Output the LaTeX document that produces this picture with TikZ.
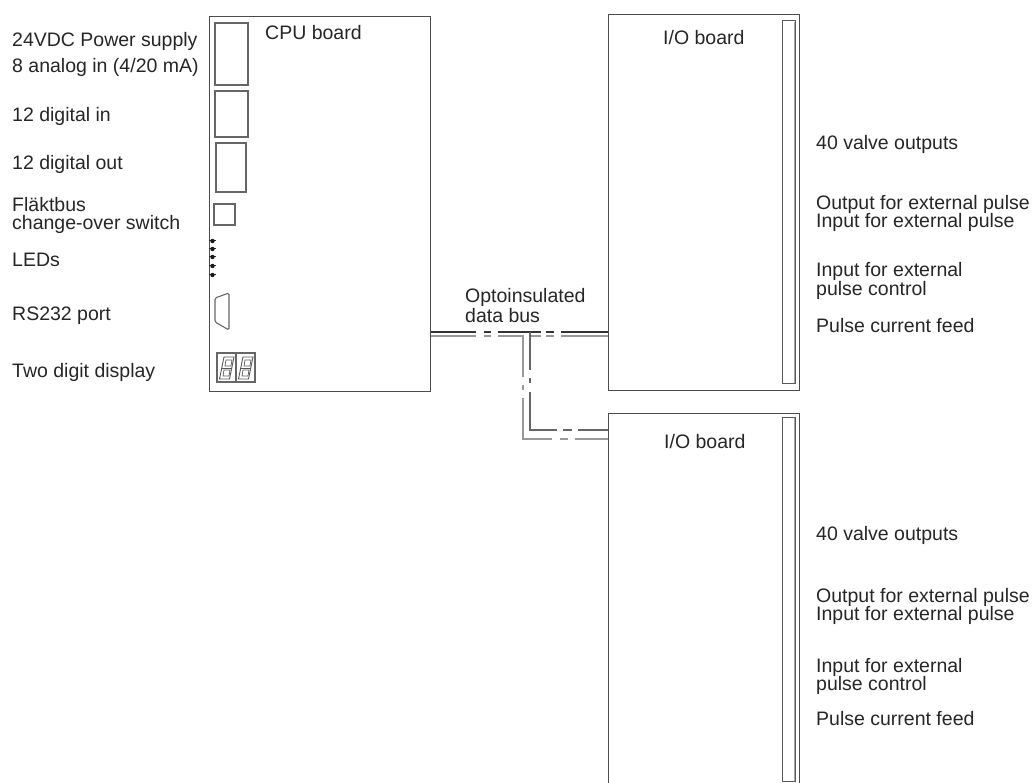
\documentclass[tikz,border=0pt]{standalone}
\usepackage{fontspec}
\setmainfont{Liberation Sans}
\begin{document}
\begin{tikzpicture}[x=1pt,y=-1pt,
  lbl/.style={anchor=base west, inner sep=0pt, text=black!85, font=\fontsize{19.5}{18}\selectfont},
  board/.style={draw=black!70, line width=1.2pt, inner sep=0pt, anchor=north west},
  part/.style={draw=black!60, line width=1.1pt},
  strip/.style={draw=black!65, line width=1pt},
  stripshade/.style={draw=black!35, line width=2.4pt},
  busdark/.style={draw=black!80, line width=1.4pt},
  busgrey/.style={draw=black!40, line width=1.6pt},
  busmid/.style={draw=black!60, line width=1.4pt}]
\clip (0,0) rectangle (1035,783);
\fill[white] (0,0) rectangle (1035,783);

% boards
\node[board, minimum width=221pt, minimum height=375pt] (cpu) at (209,16) {};
\node[board, minimum width=191pt, minimum height=376pt] (io1) at (608,14) {};
\node[board, minimum width=191pt, minimum height=400pt] (io2) at (608,413) {};

% strips on I/O boards
\draw[stripshade] (795,22) -- (795,384);
\draw[strip] (782,21) rectangle (795,383);
\draw[stripshade] (795,418) -- (795,782);
\draw[strip] (782,417) rectangle (795,781);

% CPU components
\draw[part] (215,23) rectangle (248,85);
\draw[part] (215,91) rectangle (248,137);
\draw[part] (216,143) rectangle (246,192);
\draw[part] (214,204) rectangle (235,225);
\foreach \yy in {241,249,257,266,275}{
  \draw[black!85, line width=1pt] (209,\yy) -- (216,\yy);
  \fill[black!90] (212.5,\yy) circle (2.2);
}
\draw[part, rounded corners=1.5pt] (215,298) -- (229,293) -- (229,330) -- (215,322) -- cycle;
\draw[part] (217,353) rectangle (255,382);
\draw[part] (236,353) -- (236,382);
\foreach \dx in {0,19}{
  \draw[black!65, line width=0.9pt] (224+\dx,357) -- (234+\dx,357) -- (229.5+\dx,379) -- (219.5+\dx,379) -- cycle;
  \draw[black!65, line width=0.9pt] (221.8+\dx,368) -- (231.8+\dx,368);
  \draw[black!65, line width=0.7pt] (226+\dx,360) -- (232+\dx,360) -- (231+\dx,366) -- (225+\dx,366) -- cycle;
  \draw[black!65, line width=0.7pt] (224+\dx,370) -- (230+\dx,370) -- (229+\dx,376) -- (223+\dx,376) -- cycle;
}

% data bus
\coordinate (yT) at (0,332);
\coordinate (yB) at (0,336);
\coordinate (yI) at (0,430);
\coordinate (yO) at (0,439);
\coordinate (ji) at (530,332);
\coordinate (jo) at (523,336);
\draw[busgrey, dash pattern=on 45pt off 8pt on 7pt off 7pt on 26pt off 7pt on 10pt off 5pt on 8pt off 7pt on 48pt off 10pt]
  (cpu.east |- yB) -- (io1.west |- yB);
\draw[busdark, dash pattern=on 45pt off 8pt on 7pt off 7pt on 43pt off 5pt on 8pt off 7pt on 48pt off 10pt]
  (cpu.east |- yT) -- (io1.west |- yT);
\draw[busgrey, dash pattern=on 41pt off 8pt on 5pt off 8pt on 70pt off 8pt on 8pt off 7pt on 33pt off 10pt]
  (jo) -- (jo |- yO) -- (io2.west |- yO);
\draw[busmid, dash pattern=on 38pt off 8pt on 5pt off 9pt on 65pt off 6pt on 9pt off 6pt on 30pt off 10pt]
  (ji) -- (ji |- yI) -- (io2.west |- yI);

% board titles
\node[lbl] (tcpu) at (265,40) {CPU board};
\node[lbl] (tio1) at (663,45) {I/O board};
\node[lbl] (tio2) at (664,448) {I/O board};
\node[lbl] (tbus1) at (465,302) {Optoinsulated};
\node[lbl] (tbus2) at (465,323) {data bus};

% left labels
\node[lbl] (l1) at (12,47) {24VDC Power supply};
\node[lbl] (l2) at (12,73) {8 analog in (4/20 mA)};
\node[lbl] (l3) at (12,122) {12 digital in};
\node[lbl] (l4) at (12,170) {12 digital out};
\node[lbl] (l5) at (12,212) {Fläktbus};
\node[lbl] (l6) at (12,230) {change-over switch};
\node[lbl] (l7) at (12,267) {LEDs};
\node[lbl] (l8) at (12,320) {RS232 port};
\node[lbl] (l9) at (12,377) {Two digit display};

% right labels, board 1
\node[lbl] (a1) at (816,150) {40 valve outputs};
\node[lbl] (a2) at (816,210) {Output for external pulse};
\node[lbl] (a3) at (816,228) {Input for external pulse};
\node[lbl] (a4) at (816,277) {Input for external};
\node[lbl] (a5) at (816,295) {pulse control};
\node[lbl] (a6) at (816,332) {Pulse current feed};

% right labels, board 2
\node[lbl] (b1) at (816,540) {40 valve outputs};
\node[lbl] (b2) at (816,602) {Output for external pulse};
\node[lbl] (b3) at (816,620) {Input for external pulse};
\node[lbl] (b4) at (816,672) {Input for external};
\node[lbl] (b5) at (816,690) {pulse control};
\node[lbl] (b6) at (816,725) {Pulse current feed};
\end{tikzpicture}
\end{document}
